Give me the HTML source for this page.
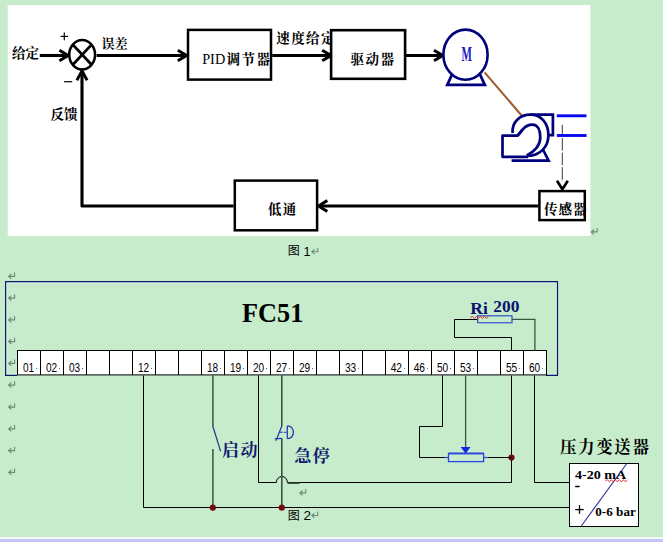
<!DOCTYPE html>
<html><head><meta charset="utf-8"><title>diagram</title>
<style>html,body{margin:0;padding:0;background:#c7eccb;overflow:hidden}svg{display:block}</style></head>
<body><svg width="663" height="542" viewBox="0 0 663 542">
<title>PID pressure control block diagram and FC51 wiring diagram</title>
<desc>给定 误差 PID调节器 速度给定 驱动器 M 传感器 低通 反馈 图1 FC51 01 02 03 12 18 19 20 27 29 33 42 46 50 53 55 60 Ri 200 启动 急停 压力变送器 4-20 mA 0-6 bar 图2</desc>
<rect x="0" y="0" width="663" height="542" fill="#c7eccb"/>
<rect x="7.7" y="5.1" width="582.7" height="230.9" fill="#fff"/>
<rect x="0" y="537" width="663" height="2" fill="#f6faf4"/>
<rect x="0" y="539" width="663" height="3" fill="#c5c6f7"/>
<line x1="39.8" y1="55.5" x2="67" y2="55.5" stroke="#000" stroke-width="3.1" />
<polyline points="59.400000000000006,50.2 68.2,55.5 59.400000000000006,60.8" stroke="#000" stroke-width="3.0" fill="none" />
<ellipse cx="82.15" cy="54.75" rx="12.9" ry="14.65" stroke="#000" stroke-width="2.5" fill="#fff"/>
<line x1="72.8" y1="44.6" x2="91.6" y2="64.8" stroke="#000" stroke-width="2.8" />
<line x1="91.6" y1="44.6" x2="72.8" y2="64.8" stroke="#000" stroke-width="2.8" />
<line x1="96.6" y1="55.5" x2="185" y2="55.5" stroke="#000" stroke-width="3.1" />
<polyline points="177.79999999999998,50.2 186.6,55.5 177.79999999999998,60.8" stroke="#000" stroke-width="3.0" fill="none" />
<rect x="188" y="29.9" width="83" height="49.7" stroke="#000" stroke-width="2.5" fill="none" />
<line x1="272.2" y1="55.5" x2="330" y2="55.5" stroke="#000" stroke-width="3.1" />
<polyline points="322.2,50.2 331,55.5 322.2,60.8" stroke="#000" stroke-width="3.0" fill="none" />
<line x1="405.5" y1="55.5" x2="441" y2="55.5" stroke="#000" stroke-width="3.1" />
<polyline points="434.0,50.2 442.8,55.5 434.0,60.8" stroke="#000" stroke-width="3.0" fill="none" />
<polyline points="538.2,206 320,206" stroke="#000" stroke-width="3.1" fill="none" />
<polyline points="327.3,200.4 318.5,206 327.3,211.6" stroke="#000" stroke-width="3.0" fill="none" />
<rect x="234.8" y="180.6" width="82.3" height="49.7" stroke="#000" stroke-width="2.5" fill="none" />
<polyline points="233.6,206 82,206 82,72" stroke="#000" stroke-width="3.1" fill="none" stroke-linejoin="round"/>
<polyline points="76.9,80.2 82,70.8 87.1,80.2" stroke="#000" stroke-width="2.9" fill="none" />
<line x1="562.3" y1="124.8" x2="562.3" y2="182" stroke="#3a3a3a" stroke-width="1" stroke-dasharray="12.6 2" stroke-dashoffset="1.4"/>
<polyline points="557.0,180.7 562.4,189.2 567.8,180.7" stroke="#000" stroke-width="2.7" fill="none" />
<polyline points="452,74.5 447.3,84.9 484.8,84.9 480,74.5" stroke="#00007b" stroke-width="2.8" fill="#fff" />
<ellipse cx="465.5" cy="54.7" rx="22.1" ry="25.1" stroke="#00007b" stroke-width="2.6" fill="#fff"/>
<text x="461.5" y="61.3" font-family="'Liberation Serif', serif" font-weight="bold" font-size="21" fill="#1818c0" textLength="10.4" lengthAdjust="spacingAndGlyphs">M</text>
<line x1="484.6" y1="72.3" x2="522" y2="116" stroke="#9a5a2c" stroke-width="2" />
<polyline points="543.2,150 548.6,160.6 511.6,160.6" stroke="#00007b" stroke-width="2.7" fill="none" />
<polyline points="530,114.7 552.9,114.7 552.9,135.2 546,135.2" stroke="#00007b" stroke-width="2.7" fill="#fff" />
<path d="M512.6,133 C511.6,122 520,114.7 530.5,114.7 C541,114.7 548.4,123 548.4,135.3 C548.4,147 540,155.6 528,155.9" stroke="#00007b" stroke-width="2.7" fill="#fff"/>
<path d="M528,156.8 H502.5 V135.7 H517.6 L522.4,129.8" stroke="#00007b" stroke-width="2.7" fill="#fff" stroke-linejoin="round"/>
<path d="M517.6,135.7 L522.6,129.6 C525.5,126 529,124.6 532.5,124.6 C537.5,124.6 540.3,130 540.3,137.4 C540.3,145.5 534,151.5 526.7,155.4" stroke="#00007b" stroke-width="2.7" fill="none" stroke-linejoin="round"/>
<line x1="556.8" y1="115.8" x2="586.5" y2="115.8" stroke="#0808f0" stroke-width="2.9" />
<line x1="556.8" y1="135.5" x2="586.5" y2="135.5" stroke="#0808f0" stroke-width="2.9" />
<text x="12" y="58.4" font-family="'Liberation Serif', 'Noto Serif CJK SC', serif" font-weight="bold" font-size="13.6" fill="#000">给定</text>
<text x="101.5" y="48" font-family="'Liberation Serif', 'Noto Serif CJK SC', serif" font-weight="bold" font-size="13" fill="#000">误差</text>
<line x1="60.6" y1="36.4" x2="68" y2="36.4" stroke="#000" stroke-width="1.2" />
<line x1="64.3" y1="32.5" x2="64.3" y2="40.2" stroke="#000" stroke-width="1.2" />
<line x1="64.1" y1="81.7" x2="72.2" y2="81.7" stroke="#000" stroke-width="1.2" />
<text x="50.5" y="119" font-family="'Liberation Serif', 'Noto Serif CJK SC', serif" font-weight="bold" font-size="13.6" fill="#000">反馈</text>
<text x="202.2" y="63.5" font-family="'Liberation Serif', serif" font-size="14" fill="#000" textLength="23" lengthAdjust="spacingAndGlyphs">PID</text>
<text x="226.4" y="63.7" font-family="'Liberation Serif', 'Noto Serif CJK SC', serif" font-weight="bold" font-size="13.5" letter-spacing="1.6" fill="#000">调节器</text>
<text x="276.3" y="43.3" font-family="'Liberation Serif', 'Noto Serif CJK SC', serif" font-weight="bold" font-size="13.5" letter-spacing="1.4" fill="#000">速度给定</text>
<rect x="331.1" y="30.2" width="74.0" height="48.6" stroke="#000" stroke-width="2.6" fill="#fff" />
<line x1="405.5" y1="55.5" x2="441" y2="55.5" stroke="#000" stroke-width="3.1" />
<text x="350.6" y="63.6" font-family="'Liberation Serif', 'Noto Serif CJK SC', serif" font-weight="bold" font-size="13.5" letter-spacing="1.5" fill="#000">驱动器</text>
<text x="268" y="213.5" font-family="'Liberation Serif', 'Noto Serif CJK SC', serif" font-weight="bold" font-size="13.5" letter-spacing="1.2" fill="#000">低通</text>
<text x="544" y="213.6" font-family="'Liberation Serif', 'Noto Serif CJK SC', serif" font-weight="bold" font-size="13.5" letter-spacing="1" fill="#000">传感器</text>
<rect x="539.4" y="191.1" width="45.4" height="29.0" stroke="#000" stroke-width="2.5" fill="none" />
<path d="M597.2,228.0 V231.9 H591.8 M594.0,229.5 L591.2,231.9 L594.0,234.3" stroke="#718a74" stroke-width="1.1" fill="none"/>
<text x="287.8" y="255.4" font-family="'Liberation Sans', 'Noto Sans CJK SC', sans-serif" font-size="12" fill="#000">图</text>
<text x="303.6" y="255.6" font-family="'Liberation Sans', sans-serif" font-size="12.6" fill="#000">1</text>
<path d="M317.8,247.9 V251.8 H312.4 M314.6,249.4 L311.8,251.8 L314.6,254.2" stroke="#718a74" stroke-width="1.1" fill="none"/>
<path d="M14.6,272.5 V276.4 H9.2 M11.4,274.0 L8.6,276.4 L11.4,278.8" stroke="#718a74" stroke-width="1.1" fill="none"/>
<path d="M14.6,294.2 V298.1 H9.2 M11.4,295.7 L8.6,298.1 L11.4,300.5" stroke="#718a74" stroke-width="1.1" fill="none"/>
<path d="M14.6,316.0 V319.9 H9.2 M11.4,317.5 L8.6,319.9 L11.4,322.3" stroke="#718a74" stroke-width="1.1" fill="none"/>
<path d="M14.6,337.7 V341.6 H9.2 M11.4,339.2 L8.6,341.6 L11.4,344.0" stroke="#718a74" stroke-width="1.1" fill="none"/>
<path d="M14.6,359.5 V363.4 H9.2 M11.4,361.0 L8.6,363.4 L11.4,365.8" stroke="#718a74" stroke-width="1.1" fill="none"/>
<path d="M14.6,381.2 V385.1 H9.2 M11.4,382.7 L8.6,385.1 L11.4,387.5" stroke="#718a74" stroke-width="1.1" fill="none"/>
<path d="M14.6,403.2 V407.1 H9.2 M11.4,404.7 L8.6,407.1 L11.4,409.5" stroke="#718a74" stroke-width="1.1" fill="none"/>
<path d="M14.6,425.0 V428.9 H9.2 M11.4,426.5 L8.6,428.9 L11.4,431.3" stroke="#718a74" stroke-width="1.1" fill="none"/>
<path d="M14.6,446.7 V450.6 H9.2 M11.4,448.2 L8.6,450.6 L11.4,453.0" stroke="#718a74" stroke-width="1.1" fill="none"/>
<path d="M14.6,468.5 V472.4 H9.2 M11.4,470.0 L8.6,472.4 L11.4,474.8" stroke="#718a74" stroke-width="1.1" fill="none"/>
<polyline points="17,374.3 6.8,374.3 6.8,282.8 556.4,282.8 556.4,374.3 547,374.3" stroke="#d9ebf3" stroke-width="1.1" fill="none" />
<polyline points="17,375.3 5.6,375.3 5.6,281.6 557.5,281.6 557.5,375.3 546,375.3" stroke="#0c1868" stroke-width="1.2" fill="none" />
<rect x="17.5" y="350.5" width="529.0" height="24.4" fill="#fff" stroke="#000" stroke-width="1"/>
<line x1="40.5" y1="350.5" x2="40.5" y2="374.9" stroke="#000" stroke-width="1" />
<line x1="63.5" y1="350.5" x2="63.5" y2="374.9" stroke="#000" stroke-width="1" />
<line x1="86.5" y1="350.5" x2="86.5" y2="374.9" stroke="#000" stroke-width="1" />
<line x1="109.5" y1="350.5" x2="109.5" y2="374.9" stroke="#000" stroke-width="1" />
<line x1="132.5" y1="350.5" x2="132.5" y2="374.9" stroke="#000" stroke-width="1" />
<line x1="155.5" y1="350.5" x2="155.5" y2="374.9" stroke="#000" stroke-width="1" />
<line x1="178.5" y1="350.5" x2="178.5" y2="374.9" stroke="#000" stroke-width="1" />
<line x1="201.5" y1="350.5" x2="201.5" y2="374.9" stroke="#000" stroke-width="1" />
<line x1="224.5" y1="350.5" x2="224.5" y2="374.9" stroke="#000" stroke-width="1" />
<line x1="247.5" y1="350.5" x2="247.5" y2="374.9" stroke="#000" stroke-width="1" />
<line x1="270.5" y1="350.5" x2="270.5" y2="374.9" stroke="#000" stroke-width="1" />
<line x1="293.5" y1="350.5" x2="293.5" y2="374.9" stroke="#000" stroke-width="1" />
<line x1="316.5" y1="350.5" x2="316.5" y2="374.9" stroke="#000" stroke-width="1" />
<line x1="339.5" y1="350.5" x2="339.5" y2="374.9" stroke="#000" stroke-width="1" />
<line x1="362.5" y1="350.5" x2="362.5" y2="374.9" stroke="#000" stroke-width="1" />
<line x1="385.5" y1="350.5" x2="385.5" y2="374.9" stroke="#000" stroke-width="1" />
<line x1="408.5" y1="350.5" x2="408.5" y2="374.9" stroke="#000" stroke-width="1" />
<line x1="431.5" y1="350.5" x2="431.5" y2="374.9" stroke="#000" stroke-width="1" />
<line x1="454.5" y1="350.5" x2="454.5" y2="374.9" stroke="#000" stroke-width="1" />
<line x1="477.5" y1="350.5" x2="477.5" y2="374.9" stroke="#000" stroke-width="1" />
<line x1="500.5" y1="350.5" x2="500.5" y2="374.9" stroke="#000" stroke-width="1" />
<line x1="523.5" y1="350.5" x2="523.5" y2="374.9" stroke="#000" stroke-width="1" />
<g font-family="'Liberation Sans', sans-serif" font-size="13" fill="#000">
<text x="22.9" y="371.9" textLength="11.2" lengthAdjust="spacingAndGlyphs">01</text>
<text x="45.9" y="371.9" textLength="11.2" lengthAdjust="spacingAndGlyphs">02</text>
<text x="68.9" y="371.9" textLength="11.2" lengthAdjust="spacingAndGlyphs">03</text>
<text x="137.9" y="371.9" textLength="11.2" lengthAdjust="spacingAndGlyphs">12</text>
<text x="206.9" y="371.9" textLength="11.2" lengthAdjust="spacingAndGlyphs">18</text>
<text x="229.9" y="371.9" textLength="11.2" lengthAdjust="spacingAndGlyphs">19</text>
<text x="253" y="371.9" textLength="11.2" lengthAdjust="spacingAndGlyphs">20</text>
<text x="276" y="371.9" textLength="11.2" lengthAdjust="spacingAndGlyphs">27</text>
<text x="299" y="371.9" textLength="11.2" lengthAdjust="spacingAndGlyphs">29</text>
<text x="344.9" y="371.9" textLength="11.2" lengthAdjust="spacingAndGlyphs">33</text>
<text x="390.7" y="371.9" textLength="11.3" lengthAdjust="spacingAndGlyphs">42</text>
<text x="413.7" y="371.9" textLength="11.3" lengthAdjust="spacingAndGlyphs">46</text>
<text x="436.9" y="371.9" textLength="11.3" lengthAdjust="spacingAndGlyphs">50</text>
<text x="459.9" y="371.9" textLength="11.3" lengthAdjust="spacingAndGlyphs">53</text>
<text x="505.9" y="371.9" textLength="11.3" lengthAdjust="spacingAndGlyphs">55</text>
<text x="529" y="371.9" textLength="11.2" lengthAdjust="spacingAndGlyphs">60</text>
</g>
<rect x="36" y="368" width="1" height="1" fill="#666"/>
<rect x="59" y="368" width="1" height="1" fill="#666"/>
<rect x="82" y="368" width="1" height="1" fill="#666"/>
<rect x="151" y="368" width="1" height="1" fill="#666"/>
<rect x="220" y="368" width="1" height="1" fill="#666"/>
<rect x="243" y="368" width="1" height="1" fill="#666"/>
<rect x="266" y="368" width="1" height="1" fill="#666"/>
<rect x="289" y="368" width="1" height="1" fill="#666"/>
<rect x="312" y="368" width="1" height="1" fill="#666"/>
<rect x="358" y="368" width="1" height="1" fill="#666"/>
<rect x="404" y="368" width="1" height="1" fill="#666"/>
<rect x="427" y="368" width="1" height="1" fill="#666"/>
<rect x="450" y="368" width="1" height="1" fill="#666"/>
<rect x="473" y="368" width="1" height="1" fill="#666"/>
<rect x="519" y="368" width="1" height="1" fill="#666"/>
<rect x="542" y="368" width="1" height="1" fill="#666"/>
<text x="242.1" y="321.7" font-family="'Liberation Serif', serif" font-weight="bold" font-size="27" fill="#000" textLength="61.2" lengthAdjust="spacingAndGlyphs">FC51</text>
<polyline points="143.5,375.5 143.5,507.5 569.5,507.5" stroke="#000" stroke-width="1" fill="none" />
<line x1="212.9" y1="375.3" x2="212.9" y2="426.2" stroke="#365640" stroke-width="1.5" />
<line x1="212.9" y1="448.9" x2="212.9" y2="507.5" stroke="#365640" stroke-width="1.5" />
<line x1="212.7" y1="425.8" x2="220.6" y2="451.3" stroke="#2a3f8a" stroke-width="1.25" />
<path d="M258.5,375.5 V482.5 H276.4 A5.5,6 0 0 1 287.4,482.5 H511.5 V375.5" stroke="#000" stroke-width="1" fill="none"/>
<line x1="281.8" y1="375.3" x2="281.8" y2="425.9" stroke="#365640" stroke-width="1.6" />
<line x1="281.8" y1="438.2" x2="281.8" y2="507.5" stroke="#365640" stroke-width="1.6" />
<line x1="287.6" y1="483.2" x2="299.5" y2="483.2" stroke="#365640" stroke-width="1.5" />
<path d="M281.9,425.7 L276,440.8 M274.8,438.9 L281.9,438.3 M287.3,426 V438.6 M287.3,426 C295.4,425.6 295.4,439 287.3,438.6" stroke="#2238b0" stroke-width="1.25" fill="none"/>
<path d="M279.6,432.3 H287.3" stroke="#2238b0" stroke-width="1.1" fill="none" stroke-dasharray="3 1"/>
<circle cx="212.8" cy="507.7" r="3.1" fill="#720c0c"/>
<circle cx="281.8" cy="507.7" r="3.1" fill="#720c0c"/>
<circle cx="511.5" cy="457.5" r="3.1" fill="#720c0c"/>
<polyline points="442.5,375.5 442.5,426.5 419.5,426.5 419.5,457.5 445,457.5" stroke="#000" stroke-width="1" fill="none" />
<line x1="444.6" y1="457.5" x2="448.3" y2="457.5" stroke="#2a46e0" stroke-width="1.2" />
<rect x="448.5" y="453.6" width="35.1" height="8.0" stroke="#2a46e0" stroke-width="1.3" fill="#c7eccb" />
<line x1="448.5" y1="453.4" x2="483.6" y2="453.4" stroke="#2a46e0" stroke-width="1.6" />
<line x1="483.6" y1="457.5" x2="487.6" y2="457.5" stroke="#2a46e0" stroke-width="1.2" />
<line x1="487.6" y1="457.5" x2="511.5" y2="457.5" stroke="#000" stroke-width="1" />
<line x1="465.6" y1="375.5" x2="465.6" y2="447.5" stroke="#365640" stroke-width="1.3" />
<polygon points="460.6,447 470.6,447 465.6,453.4" fill="#1226e6"/>
<polyline points="534.5,375.5 534.5,482.5 569.5,482.5" stroke="#000" stroke-width="1" fill="none" />
<polyline points="477.5,319.5 454.5,319.5 454.5,337.5 511.5,337.5 511.5,350.5" stroke="#000" stroke-width="1" fill="none" />
<polyline points="512,319.4 534.9,319.4 534.9,350.5" stroke="#365640" stroke-width="1.3" fill="none" />
<rect x="477.6" y="315.8" width="34.4" height="6.8" stroke="#3050b8" stroke-width="1.2" fill="#c7eccb" />
<line x1="478" y1="323.2" x2="512.6" y2="323.2" stroke="#86a8e6" stroke-width="1" />
<text x="470.3" y="314.4" font-family="'Liberation Serif', serif" font-weight="bold" font-size="16" fill="#0b1270" textLength="17.5" lengthAdjust="spacingAndGlyphs">Ri</text>
<text x="493.3" y="311.5" font-family="'Liberation Serif', serif" font-weight="bold" font-size="17" fill="#0b1270" textLength="26.1" lengthAdjust="spacingAndGlyphs">200</text>
<path d="M470.4,317.4 L472.4,316.3 L474.4,318.5 L476.4,316.3 L478.4,318.5 L480.4,316.3 L482.4,318.5 L484.4,316.3 L486.4,318.5 L488.4,316.3" stroke="#e02020" stroke-width="0.9" fill="none"/>
<text x="222" y="455.8" font-family="'Liberation Serif', 'Noto Serif CJK SC', serif" font-weight="bold" font-size="17" letter-spacing="1.5" fill="#10186e">启动</text>
<text x="294.3" y="462.4" font-family="'Liberation Serif', 'Noto Serif CJK SC', serif" font-weight="bold" font-size="17" letter-spacing="1.5" fill="#10186e">急停</text>
<path d="M305.8,489.0 V492.9 H300.4 M302.6,490.5 L299.8,492.9 L302.6,495.3" stroke="#718a74" stroke-width="1.1" fill="none"/>
<text x="287.8" y="519.5" font-family="'Liberation Sans', 'Noto Sans CJK SC', sans-serif" font-size="12" fill="#000">图</text>
<text x="303.6" y="520.1" font-family="'Liberation Sans', sans-serif" font-size="13.5" fill="#000">2</text>
<path d="M317.7,511.6 V515.5 H312.3 M314.5,513.1 L311.7,515.5 L314.5,517.9" stroke="#718a74" stroke-width="1.1" fill="none"/>
<text x="560" y="453.3" font-family="'Liberation Serif', 'Noto Serif CJK SC', serif" font-weight="bold" font-size="16.5" letter-spacing="1.6" fill="#000">压力变送器</text>
<rect x="569.5" y="463.5" width="69.0" height="63.0" stroke="#000" stroke-width="1" fill="#fff" />
<line x1="626.8" y1="463.5" x2="581.3" y2="526" stroke="#3a3aa8" stroke-width="1.2" />
<text x="575" y="479.1" font-family="'Liberation Serif', serif" font-weight="bold" font-size="13.5" fill="#000" textLength="51.3" lengthAdjust="spacingAndGlyphs" xml:space="preserve">4-20 mA</text>
<path d="M605.4,480.8 L607.4,479.7 L609.4,481.9 L611.4,479.7 L613.4,481.9 L615.4,479.7 L617.4,481.9 L619.4,479.7 L621.4,481.9 L623.4,479.7 L625.4,481.9 L627.4,479.7" stroke="#e02020" stroke-width="0.9" fill="none"/>
<line x1="575.2" y1="486.5" x2="579.6" y2="486.5" stroke="#000" stroke-width="1.5" />
<line x1="575.2" y1="509.6" x2="583.7" y2="509.6" stroke="#000" stroke-width="1.3" />
<line x1="579.5" y1="505.2" x2="579.5" y2="513.8" stroke="#000" stroke-width="1.3" />
<text x="595.3" y="515.7" font-family="'Liberation Serif', serif" font-weight="bold" font-size="13" fill="#000" textLength="40.5" lengthAdjust="spacingAndGlyphs" xml:space="preserve">0-6 bar</text>
</svg></body></html>
